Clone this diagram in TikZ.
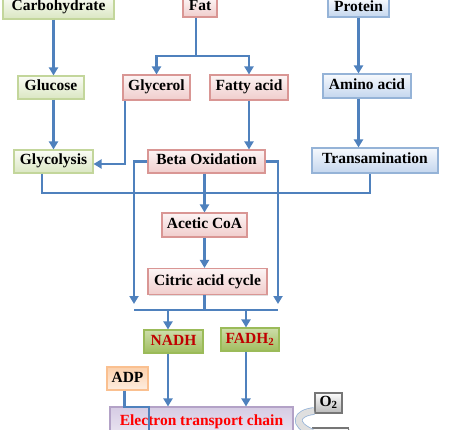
\documentclass[tikz,border=0pt]{standalone}
\usepackage{fontspec}
\setmainfont{Liberation Serif}
\usetikzlibrary{arrows.meta,positioning,shadows,calc}
\definecolor{flowblue}{RGB}{79,129,189}
\definecolor{greenline}{RGB}{195,214,155}
\definecolor{greentop}{RGB}{250,252,245}
\definecolor{greenbottom}{RGB}{218,230,194}
\definecolor{redline}{RGB}{217,150,148}
\definecolor{redtop}{RGB}{252,244,244}
\definecolor{redbottom}{RGB}{240,205,204}
\definecolor{blueline}{RGB}{149,179,215}
\definecolor{bluetop}{RGB}{246,249,253}
\definecolor{bluebottom}{RGB}{196,214,238}
\definecolor{nadhline}{RGB}{155,187,89}
\definecolor{nadhtop}{RGB}{205,221,170}
\definecolor{nadhbottom}{RGB}{160,190,95}
\definecolor{adpline}{RGB}{250,192,144}
\definecolor{adptop}{RGB}{251,208,172}
\definecolor{adpbottom}{RGB}{254,238,225}
\definecolor{etcline}{RGB}{179,162,199}
\definecolor{etctop}{RGB}{214,204,228}
\definecolor{etcbottom}{RGB}{236,231,242}
\definecolor{grayline}{RGB}{118,118,118}
\definecolor{graytop}{RGB}{252,252,252}
\definecolor{graybottom}{RGB}{185,185,185}
\definecolor{nadhtext}{RGB}{192,0,0}
\definecolor{etctext}{RGB}{255,0,0}

\begin{document}
\begin{tikzpicture}[
        x=1pt, y=-1pt,
        >={Triangle[length=8pt,width=9pt]},
        box/.style={rectangle, draw=#1line, line width=1.1pt,
            top color=#1top, bottom color=#1bottom, text=black,
            drop shadow={shadow xshift=1pt, shadow yshift=-1.2pt, opacity=0.25},
            inner sep=0pt, text height=10pt, text depth=3pt,
            align=center, font=\bfseries\fontsize{15.5}{17}\selectfont},
        flow/.style={draw=flowblue, line width=2.9pt}
    ]
        \useasboundingbox (0,0) rectangle (449,430);

        % sources
        \node[box=green, minimum width=111, minimum height=23] (carbohydrate) at (58.5,7.5) {Carbohydrate};
        \node[box=red, minimum width=34, minimum height=19] (fat) at (200,7.5) {Fat};
        \node[box=blue, minimum width=61, minimum height=18] (protein) at (358.5,8) {Protein};

        % breakdown products
        \node[box=green, minimum width=66, minimum height=23] (glucose) at (51,87.5) {Glucose};
        \node[box=red, minimum width=67, minimum height=25] (glycerol) at (156.5,87.5) {Glycerol};
        \node[box=red, minimum width=78, minimum height=25] (fattyacid) at (249,87.5) {Fatty acid};
        \node[box=blue, minimum width=88, minimum height=24] (aminoacid) at (367,86) {Amino acid};

        % pathways
        \node[box=green, minimum width=79, minimum height=23] (glycolysis) at (53.5,161.5) {Glycolysis};
        \node[box=red, minimum width=117, minimum height=23] (betaox) at (206.5,161.5) {Beta Oxidation};
        \node[box=blue, minimum width=126, minimum height=25] (transamination) at (375,160.5) {Transamination};
        \node[box=red, minimum width=85, minimum height=24] (aceticcoa) at (204.5,225) {Acetic CoA};
        \node[box=red, minimum width=119, minimum height=26] (citric) at (207.5,281.5) {Citric acid cycle};

        % carriers and chain
        \node[box=nadh, text=nadhtext, minimum width=59, minimum height=23] (nadh) at (173.5,341.5) {NADH};
        \node[box=nadh, text=nadhtext, minimum width=58, minimum height=23] (fadh) at (250,339.5) {FADH\textsubscript{2}};
        \node[box=adp, minimum width=41, minimum height=23] (adp) at (127.5,378.5) {ADP};
        \node[box=etc, text=etctext, minimum width=183, minimum height=30] (etc) at (201.5,422) {Electron transport chain};
        \node[box=gray, minimum width=27, minimum height=20] (oxygen) at (328.5,403) {O\textsubscript{2}};
        \node[box=gray, minimum width=36, minimum height=20] (water) at (330.5,438) {};

        % junction points
        \coordinate (fatsplit) at (196,56);
        \coordinate (poolleft) at (42,193);
        \coordinate (poolright) at (370,193);
        \coordinate (sumleft) at (134,310);
        \coordinate (sumright) at (278,310);
        \coordinate (nadhin) at (168,310);
        \coordinate (fadhin) at (246,310);
        \coordinate (adpbend) at (149,407);
        \coordinate (adpend) at (149,440);
        \coordinate (o2from) at (314,411);

        \draw[->, flow] (carbohydrate.south -| glycolysis) -- (glucose.north -| glycolysis);
        \draw[->, flow] (glucose.south -| glycolysis) -- (glycolysis);
        \draw[flow] (fat.south -| fatsplit) -- (fatsplit);
        \draw[->, flow] (fatsplit) -| (glycerol.north);
        \draw[->, flow] (fatsplit) -| (fattyacid.north);
        \draw[->, flow] (protein) -- (aminoacid.north -| protein);
        \draw[->, flow] (aminoacid.south -| protein) -- (transamination.north -| protein);
        \draw[->, flow] ([xshift=2.5pt]glycerol.south west) |- ([yshift=-2.5pt]glycolysis.east);
        \draw[->, flow] (fattyacid) -- (betaox.north -| fattyacid);
        \draw[flow] (glycolysis.south -| poolleft) -- (poolleft) -- (poolright) -- (transamination.south -| poolright);
        \draw[->, flow] (betaox.south -| aceticcoa) -- (aceticcoa);
        \draw[->, flow] (aceticcoa) -- (citric.north -| aceticcoa);
        \draw[->, flow] (betaox.west) -| ([yshift=6pt]sumleft);
        \draw[->, flow] (betaox.east) -| ([yshift=6pt]sumright);
        \draw[flow] (sumleft) -- (sumright);
        \draw[flow] (citric.south -| aceticcoa) -- (sumleft -| aceticcoa);
        \draw[->, flow] (nadhin) -- (nadh.north -| nadhin);
        \draw[->, flow] (fadhin) -- (fadh.north -| fadhin);
        \draw[->, flow] (nadh.south -| nadhin) -- (etc.north -| nadhin);
        \draw[->, flow] (fadh.south -| fadhin) -- (etc.north -| fadhin);
        \draw[flow] ([xshift=-3pt]adp.south) |- (adpbend) -- (adpend);
        \draw[draw=flowblue!60, line width=0.8pt, double=gray!25, double distance=6pt]
            (o2from) .. controls (296,413) and (292,424) .. ([yshift=-5pt]water.north west);
    \end{tikzpicture}
\end{document}
